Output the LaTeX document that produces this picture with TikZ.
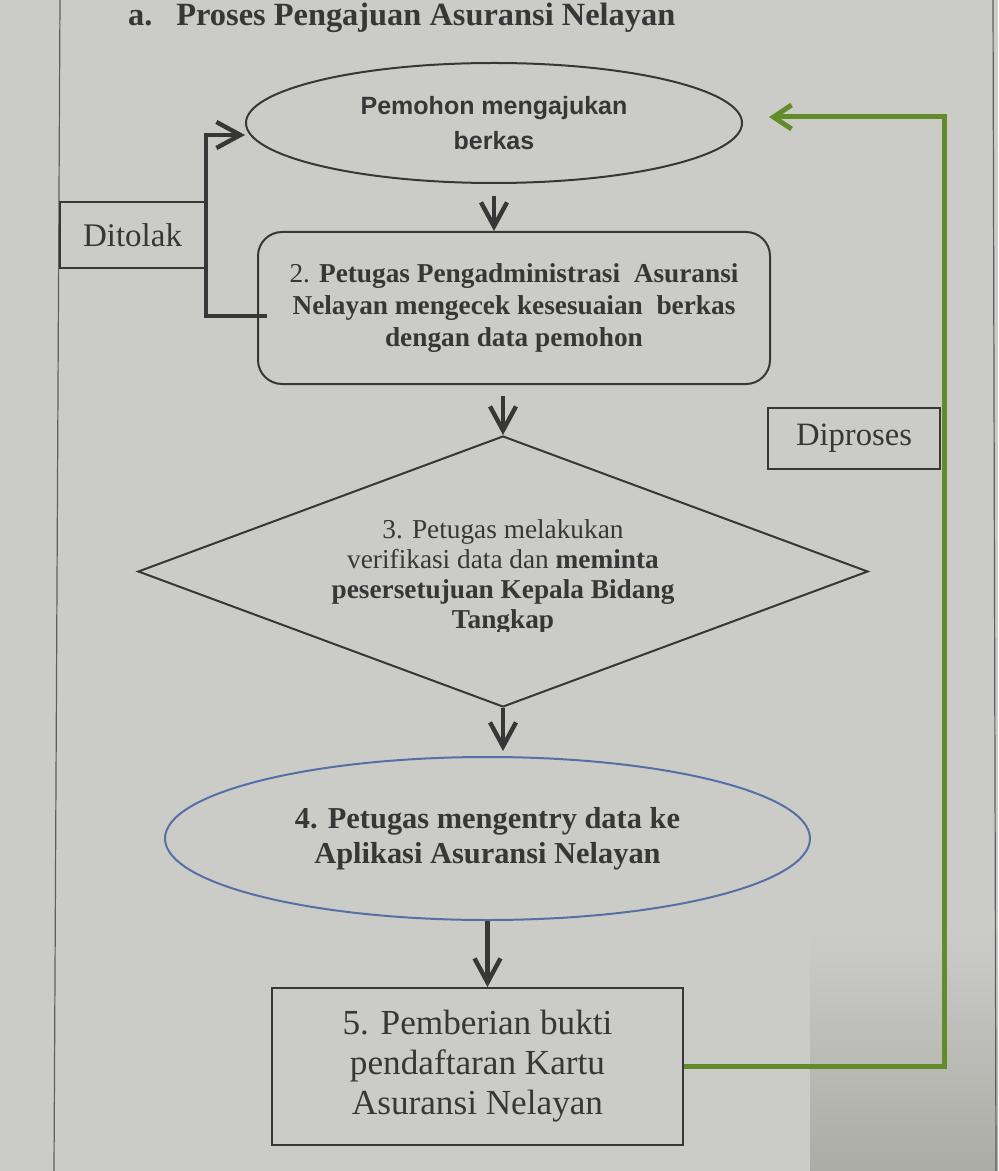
\documentclass[tikz,border=0pt]{standalone}
\usepackage{fontspec}
\setmainfont{Liberation Serif}
\newfontfamily\sanskotak{Liberation Sans}
\usetikzlibrary{shapes.geometric,arrows.meta}
\definecolor{kertas}{RGB}{203,204,200}
\definecolor{bayang}{RGB}{172,172,166}
\definecolor{tinta}{RGB}{55,55,55}
\definecolor{hijau}{RGB}{98,140,42}
\definecolor{biru}{RGB}{85,112,165}

\begin{document}
\begin{tikzpicture}[x=0.5pt,y=-0.5pt,
                    kotak/.style={draw=tinta, line width=1pt, rectangle,
                                  inner sep=0pt, text=tinta},
                    elips/.style={draw=tinta, line width=1pt, ellipse,
                                  inner sep=0pt, text=tinta, align=center},
                    panah/.style={draw=tinta, line width=2.2pt,
                                  -{Straight Barb[length=12pt,width=13pt]}},
                    panahhijau/.style={draw=hijau, line width=2.5pt,
                                  -{Straight Barb[length=9pt,width=12pt]}}]

\clip (0,0) rectangle (998,1171);
\fill[kertas] (0,0) rectangle (998,1171);
\shade[top color=kertas, bottom color=bayang] (810,930) rectangle (998,1171);

% tepi halaman
\draw[tinta!80, line width=0.6pt] (60,0) -- (54,1171);
\draw[tinta!80, line width=0.6pt] (993,0) -- (996,1171);

\node[anchor=base west, text=tinta, font=\bfseries\fontsize{16.2pt}{20pt}\selectfont] (judul) at (121,26) {a.\hspace{12pt}Proses Pengajuan Asuransi Nelayan};

\node[elips, minimum width=248pt, minimum height=60pt, font=\sanskotak\bfseries\fontsize{12.5pt}{17.5pt}\selectfont] (mohon) at (494,123) {Pemohon mengajukan\\berkas};

\node[kotak, rounded corners=12pt, minimum width=256pt, minimum height=76pt, align=center, font=\bfseries\fontsize{13.65pt}{16pt}\selectfont] (cek) at (514,308) {\textmd{2.} Petugas Pengadministrasi~ Asuransi\\Nelayan mengecek kesesuaian~ berkas\\dengan data pemohon};

\node[kotak, minimum width=72.5pt, minimum height=33pt, font=\fontsize{16.5pt}{20pt}\selectfont] (tolak) at (132.5,235) {Ditolak};

\node[kotak, minimum width=86pt, minimum height=30.5pt, font=\fontsize{16.3pt}{20pt}\selectfont] (proses) at (854,438.5) {Diproses};

\node[draw=tinta, line width=1pt, diamond, aspect=2.69, inner sep=0pt, minimum width=365pt, minimum height=135.5pt] (verif) at (503,571.5) {};
\begin{scope}
  \clip (300,500) rectangle (700,631);
  \node[text=tinta, align=center, font=\fontsize{13.65pt}{15pt}\selectfont] (verifteks) at (503,577) {3. Petugas melakukan\\verifikasi data dan \textbf{meminta}\\\textbf{pesersetujuan Kepala Bidang}\\\textbf{Tangkap}};
\end{scope}

\node[elips, draw=biru, minimum width=322.5pt, minimum height=81.5pt, font=\bfseries\fontsize{15.2pt}{17.5pt}\selectfont] (entry) at (487.5,838.5) {4. Petugas mengentry data ke\\Aplikasi Asuransi Nelayan};

\node[kotak, minimum width=205.5pt, minimum height=78.5pt, align=center, font=\fontsize{17.6pt}{20pt}\selectfont] (bukti) at (477.5,1066.5) {5. Pemberian bukti\\pendaftaran Kartu\\Asuransi Nelayan};

\draw[panah, shorten <=6pt] (mohon.south) -- (mohon.south |- cek.north);
\draw[panah, shorten <=5.5pt] (cek.south -| verif.north) -- (verif.north);
\draw[panah, shorten >=2.5pt] (verif.south) -- (verif.south |- entry.north);
\draw[panah] (entry.south) -- (entry.south |- bukti.north);

\coordinate (tolakmasuk) at ([yshift=-6pt]mohon.west);
\draw[panah] ([xshift=5pt,yshift=-4pt]cek.west) -| (tolak.east |- tolakmasuk) -- (tolakmasuk);

\coordinate (prosesmasuk) at ([xshift=13pt,yshift=3pt]mohon.east);
\draw[panahhijau] (bukti.east) -| ([xshift=1.5pt]proses.east |- prosesmasuk) -- (prosesmasuk);

\end{tikzpicture}
\end{document}
